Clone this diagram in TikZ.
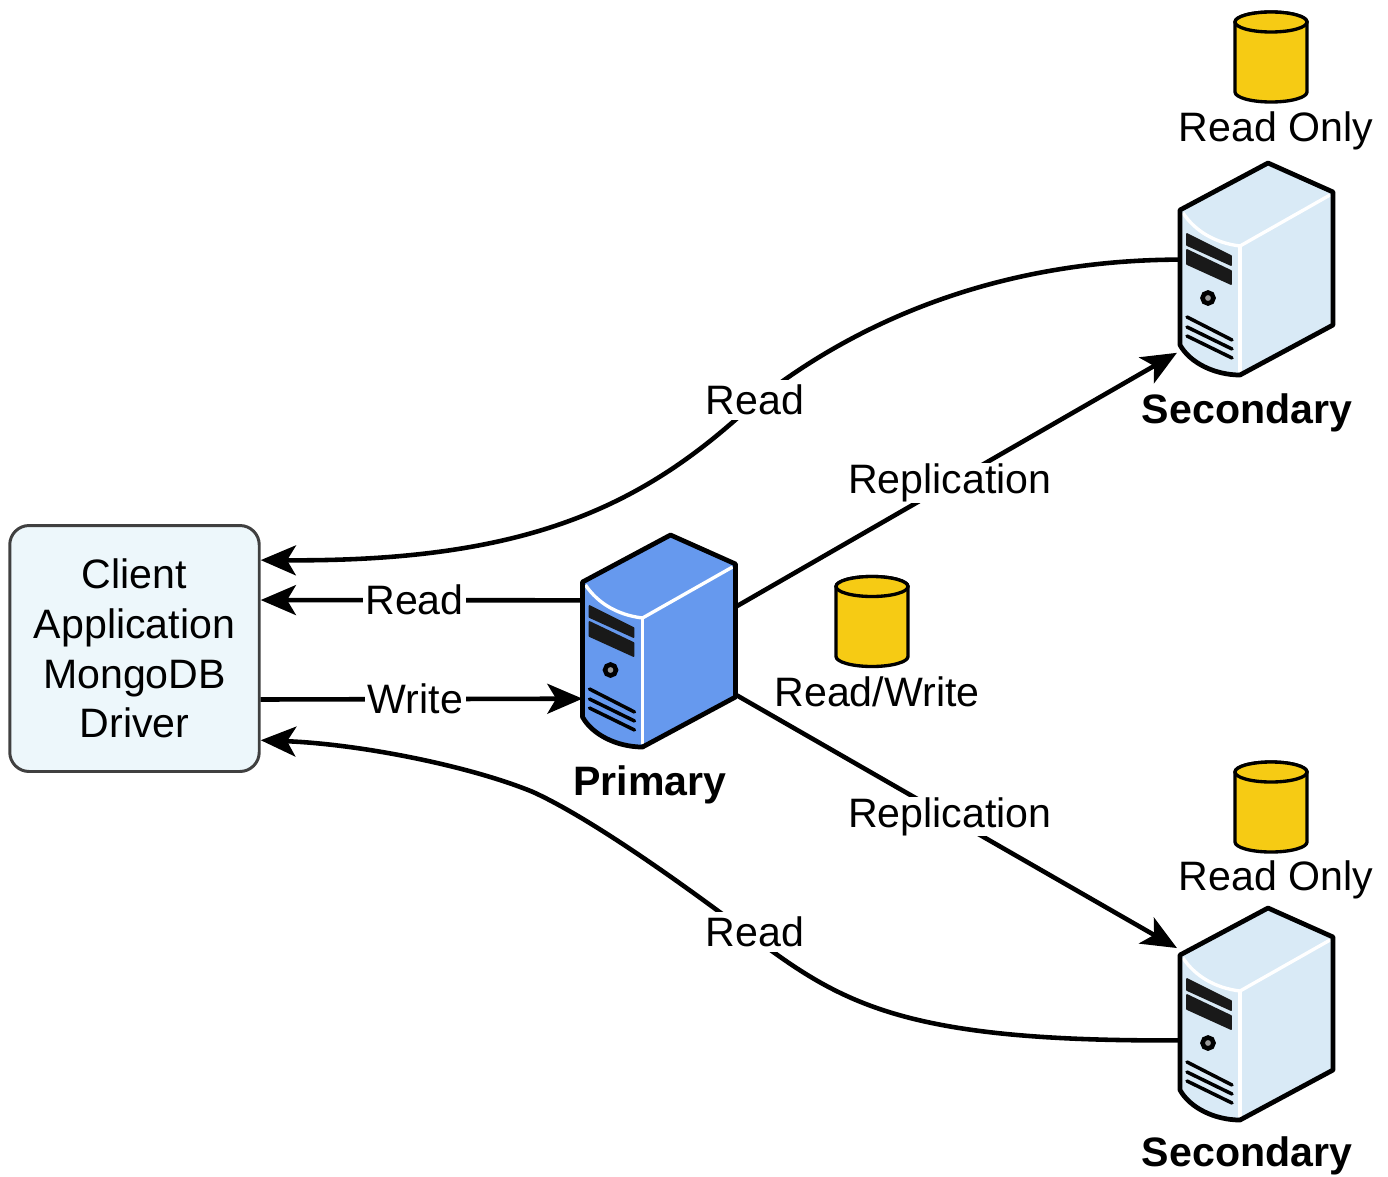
\documentclass[tikz,border=0pt]{standalone}
\usepackage{fontspec}
\setmainfont{Liberation Sans}
\usetikzlibrary{arrows.meta}
\definecolor{primblue}{HTML}{6699EE}
\definecolor{secblue}{HTML}{D9EAF6}
\definecolor{clientblue}{HTML}{EDF7FB}
\definecolor{dbyellow}{HTML}{F6CB14}
\tikzset{
  pics/servericon/.style={code={
    \begin{scope}[shift={(-76.5,-106)}]
      \fill[#1] (0,47) -- (88,0) -- (153,29) -- (153,162) -- (60,212)
        .. controls (35,212) and (10,200) .. (0,182) -- cycle;
      \draw[white,line width=1.9pt] (3,50) .. controls (15,68) and (35,80) .. (60,83) -- (150,32);
      \draw[white,line width=1.9pt] (60,83) -- (60,209);
      \draw[black!90,fill=black!90,line width=1pt,line join=round] (7,71) -- (51,93) -- (51,102) -- (7,82) -- cycle;
      \draw[black!90,fill=black!90,line width=1pt,line join=round] (7,87) -- (51,108) -- (51,121) -- (7,101) -- cycle;
      \draw[black,line width=2.6pt,fill=black!40] (28,135) circle (5.5);
      \draw[black,line width=2pt,line cap=round] (7,154) -- (52,177);
      \draw[black,line width=2pt,line cap=round] (7,164) -- (52,186);
      \draw[black,line width=2pt,line cap=round] (7,173) -- (52,195);
      \draw[black,line width=2.7pt,line join=round] (0,47) -- (88,0) -- (153,29) -- (153,162) -- (60,212)
        .. controls (35,212) and (10,200) .. (0,182) -- cycle;
    \end{scope}
  }},
  pics/dbicon/.style={code={
    \draw[black,line width=1.9pt,fill=dbyellow,line join=round] (-36,-35) arc[start angle=180,end angle=360,x radius=36,y radius=10]
      -- (36,35) arc[start angle=0,end angle=180,x radius=36,y radius=10] -- cycle;
    \draw[black,line width=1.9pt,fill=dbyellow] (0,-35) ellipse [x radius=36,y radius=10];
  }}
}
\begin{document}
\begin{tikzpicture}
      [x=0.02cm,y=-0.02cm,
      every node/.style={font=\fontsize{23.4pt}{28.35pt}\selectfont},
      conn/.style={draw=black,line width=2.6pt},
      arrow conn/.style={conn,-{Stealth[length=20pt,width=17pt,inset=5pt]}},
      client node/.style={draw=black!75,line width=1.7pt,fill=clientblue,rounded corners=11pt,
        minimum width=142pt,minimum height=140pt,align=center,inner sep=0pt},
      server node/.style={minimum width=86.7pt,minimum height=120pt,inner sep=0pt},
      db node/.style={minimum width=41pt,minimum height=51pt,inner sep=0pt},
      edge label/.style={fill=white,inner xsep=1.5pt,inner ysep=0pt,minimum height=22.5pt},
      bold label/.style={font=\fontsize{23.4pt}{28.35pt}\selectfont\bfseries}]
      \useasboundingbox (0,0) rectangle (1388,1176);
      \node[client node] (client) at (134.5,648.5) {Client\\Application\\MongoDB\\Driver};
      \node[server node] (prim) at (659,641) {};
      \node[server node] (sec1) at (1256.5,269) {};
      \node[server node] (sec2) at (1256.5,1014) {};
      \pic at (prim) {servericon=primblue};
      \pic at (sec1) {servericon=secblue};
      \pic at (sec2) {servericon=secblue};
      \node[db node] (db0) at (872,621.5) {};
      \node[db node] (db1) at (1271,57) {};
      \node[db node] (db2) at (1271,807) {};
      \pic at (db0) {dbicon};
      \pic at (db1) {dbicon};
      \pic at (db2) {dbicon};
      \node (dbtext0) at (877,692) {Read/Write};
      \node (dbtext1) at (1276,131) {Read Only};
      \node (dbtext2) at (1276,880) {Read Only};
      \node[bold label] (primtext) at (650,785) {Primary};
      \node[bold label] (sectext1) at (1247,413) {Secondary};
      \node[bold label] (sectext2) at (1247,1156) {Secondary};
      \coordinate (read1) at (755,402);
      \coordinate (read2) at (745,931);
      \coordinate (read3) at (533,792);
      \draw[arrow conn] (sec1.173) .. controls (980,260) and (840,334) .. (read1)
        .. controls (645,505) and (530,562) .. (client.35);
      \draw[arrow conn] (sec2.199) .. controls (900,1042) and (840,1003) .. (read2)
        .. controls (680,882) and (590,818) .. (read3)
        .. controls (470,766) and (360,744) .. (client.-36);
      \node[edge label] (readtext1) at (755,400) {Read};
      \node[edge label] (readtext2) at (755,932) {Read};
      \draw[arrow conn] (prim.152) -- node[edge label,xshift=-4pt] (readtext0) {Read} (client.21);
      \draw[arrow conn] (client.-22) -- node[edge label,xshift=-3.5pt] (writetext) {Write} (prim.217);
      \draw[arrow conn,shorten >=2pt] (prim.24) -- node[edge label,pos=0.478,xshift=1pt,yshift=1pt] (reptext1) {Replication} (sec1.227);
      \draw[arrow conn,shorten >=2pt] (prim.-35) -- node[edge label,pos=0.478,xshift=1pt] (reptext2) {Replication} (sec2.140);
    \end{tikzpicture}
\end{document}
